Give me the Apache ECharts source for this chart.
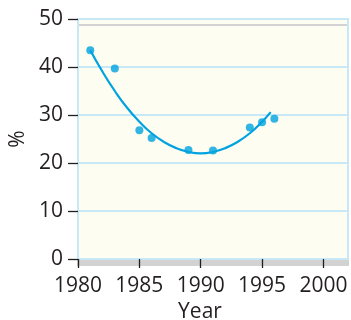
<!DOCTYPE html>
<html>
<head>
<meta charset="utf-8">
<script src="https://cdn.jsdelivr.net/npm/echarts@6/dist/echarts.min.js"></script>
<style>
  html, body { margin: 0; padding: 0; background: #ffffff; }
  #chart { width: 351px; height: 320px; }
</style>
</head>
<body>
<div id="chart"></div>
<script>
// Observed rates by year
const years = [1981, 1983, 1985, 1986, 1989, 1991, 1994, 1995, 1996];
const rates = [43.5, 39.7, 26.8, 25.2, 22.7, 22.6, 27.4, 28.5, 29.2];

// Trend curve drawn through the observations
const trendYears = [1981, 1982, 1983, 1984, 1985, 1986, 1987, 1988, 1989, 1990, 1991, 1992, 1993, 1994, 1995, 1995.7];
const trendRates = [43.5, 39.0, 35.0, 31.5, 28.6, 26.2, 24.4, 23.1, 22.3, 22.0, 22.3, 23.1, 24.4, 26.2, 28.6, 30.6];

// Tick labels
const xTicks = [1980, 1985, 1990, 1995, 2000];
const yTicks = [0, 10, 20, 30, 40, 50];

const ink = '#231f20';
const blue = '#00a3e0';
const paleBlue = '#c8e7f7';
const font = '"Open Sans", "Noto Sans", sans-serif';

const chart = echarts.init(document.getElementById('chart'), null, { renderer: 'canvas' });

chart.setOption({
  animation: false,
  backgroundColor: '#ffffff',
  grid: {
    left: 78, right: 3, top: 19, bottom: 61,
    outerBoundsMode: 'none',
    containLabel: false,
    show: true,
    backgroundColor: '#fdfdf1',
    borderColor: paleBlue,
    borderWidth: 2,
    shadowColor: '#d2d2d2',
    shadowBlur: 0,
    shadowOffsetX: 0,
    shadowOffsetY: 6
  },
  xAxis: {
    type: 'value',
    min: 1980, max: 2002, interval: 5,
    name: 'Year',
    nameLocation: 'middle',
    nameGap: 43,
    nameTextStyle: { color: ink, fontSize: 21, fontFamily: font, padding: [0, 26, 0, 0] },
    axisLine: { show: false },
    axisTick: { show: true, length: 9, inside: false, customValues: xTicks, lineStyle: { color: ink, width: 1.3 } },
    axisLabel: {
      customValues: xTicks, color: ink, fontSize: 21, fontFamily: font, margin: 17,
      formatter: v => String(v)
    },
    splitLine: { show: false }
  },
  yAxis: {
    type: 'value',
    min: 0, max: 50, interval: 10,
    name: '%',
    nameLocation: 'middle',
    nameGap: 38,
    nameTextStyle: { color: ink, fontSize: 21, fontFamily: font },
    axisLine: { show: false },
    axisTick: { show: true, length: 10, inside: false, customValues: yTicks, lineStyle: { color: ink, width: 1.3 } },
    axisLabel: { customValues: yTicks, color: ink, fontSize: 21, fontFamily: font, margin: 15 },
    splitLine: { show: true, lineStyle: { color: paleBlue, width: 2 } }
  },
  series: [
    {
      type: 'line',
      data: trendYears.map((y, i) => [y, trendRates[i]]),
      smooth: true,
      showSymbol: false,
      lineStyle: { color: blue, width: 2.2 },
      z: 2
    },
    {
      type: 'scatter',
      data: years.map((y, i) => [y, rates[i]]),
      symbolSize: 8,
      itemStyle: { color: blue },
      z: 3
    }
  ]
});
</script>
</body>
</html>
